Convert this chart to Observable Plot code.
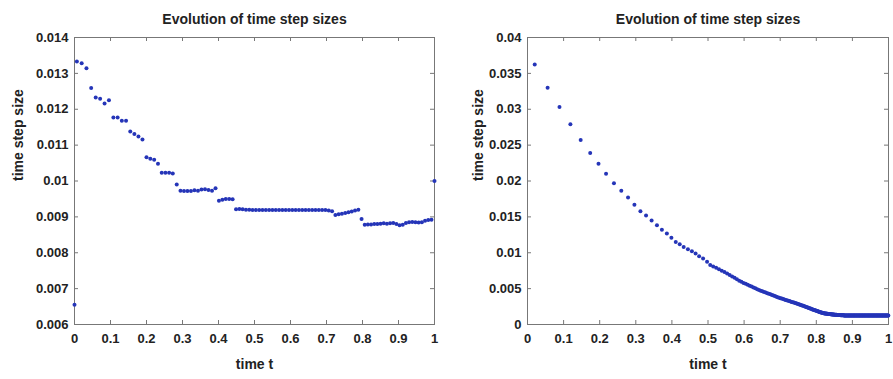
<!DOCTYPE html>
<html><head><meta charset="utf-8">
<script src="https://cdn.jsdelivr.net/npm/d3@7"></script>
<script src="https://cdn.jsdelivr.net/npm/@observablehq/plot@0.6"></script>
<style>
body{margin:0;background:#fff;}
#wrap{display:flex;width:893px;height:379px;overflow:hidden;background:#fff;}
</style></head><body><div id="wrap"></div>
<script>
const title = "Evolution of time step sizes";
const xLabel = "time t";
const yLabel = "time step size";
const xTicks = [0, 0.1, 0.2, 0.3, 0.4, 0.5, 0.6, 0.7, 0.8, 0.9, 1];
const leftYTicks = [0.006, 0.007, 0.008, 0.009, 0.01, 0.011, 0.012, 0.013, 0.014];
const rightYTicks = [0, 0.005, 0.01, 0.015, 0.02, 0.025, 0.03, 0.035, 0.04];

const leftT = [
  0, 0.0066, 0.0199, 0.0332, 0.0463, 0.0589, 0.0712, 0.0835,
  0.0957, 0.1080, 0.1198, 0.1315, 0.1432, 0.1549, 0.1663, 0.1776,
  0.1888, 0.2000, 0.2106, 0.2213, 0.2319, 0.2423, 0.2526, 0.2628,
  0.2730, 0.2840, 0.2944, 0.3041, 0.3138, 0.3235, 0.3332, 0.3430,
  0.3527, 0.3625, 0.3722, 0.3820, 0.3917, 0.4012, 0.4107, 0.4202,
  0.4297, 0.4392, 0.4487, 0.4579, 0.4671, 0.4763, 0.4855, 0.4947,
  0.5039, 0.5131, 0.5223, 0.5315, 0.5407, 0.5499, 0.5591, 0.5683,
  0.5775, 0.5867, 0.5959, 0.6051, 0.6143, 0.6235, 0.6327, 0.6419,
  0.6511, 0.6603, 0.6695, 0.6787, 0.6879, 0.6971, 0.7063, 0.7155,
  0.7247, 0.7338, 0.7429, 0.7520, 0.7611, 0.7702, 0.7793, 0.7885,
  0.7974, 0.8062, 0.8150, 0.8238, 0.8326, 0.8414, 0.8502, 0.8590,
  0.8678, 0.8766, 0.8854, 0.8942, 0.9030, 0.9118, 0.9206, 0.9294,
  0.9382, 0.9471, 0.9560, 0.9649, 0.9738, 0.9827, 0.9916, 1.0
];
const leftDt = [
  0.00655, 0.01333, 0.01328, 0.01314, 0.01259, 0.01233, 0.01229, 0.01216,
  0.01225, 0.01177, 0.01177, 0.01168, 0.01168, 0.01138, 0.01131, 0.01124,
  0.01116, 0.01066, 0.01062, 0.01059, 0.01048, 0.01023, 0.01023, 0.01023,
  0.01021, 0.00990, 0.00973, 0.00972, 0.00972, 0.00972, 0.00974, 0.00973,
  0.00976, 0.00977, 0.00975, 0.00973, 0.00980, 0.00945, 0.00948, 0.00950,
  0.00950, 0.00949, 0.00921, 0.00922, 0.00921, 0.00920, 0.00920, 0.00919,
  0.00919, 0.00919, 0.00919, 0.00919, 0.00919, 0.00919, 0.00919, 0.00919,
  0.00919, 0.00919, 0.00919, 0.00919, 0.00919, 0.00919, 0.00919, 0.00919,
  0.00919, 0.00919, 0.00919, 0.00919, 0.00919, 0.00919, 0.00918, 0.00916,
  0.00905, 0.00907, 0.00909, 0.00911, 0.00913, 0.00915, 0.00918, 0.00920,
  0.00894, 0.00878, 0.00879, 0.00879, 0.00880, 0.00880, 0.00881, 0.00882,
  0.00881, 0.00882, 0.00883, 0.00880, 0.00877, 0.00878, 0.00883, 0.00885,
  0.00886, 0.00885, 0.00884, 0.00885, 0.00889, 0.00891, 0.00892, 0.01000
];

const rightT = [
  0.0200, 0.0557, 0.0886, 0.1188, 0.1473, 0.1737, 0.1967, 0.2176,
  0.2395, 0.2598, 0.2785, 0.2962, 0.3128, 0.3284, 0.3438, 0.3586,
  0.3723, 0.3860, 0.3986, 0.4107, 0.4217, 0.4326, 0.4444, 0.4554,
  0.4656, 0.4754, 0.4864, 0.4974,
  0.5061, 0.5144, 0.5225, 0.5304, 0.5381, 0.5456, 0.5529, 0.5600,
  0.5669, 0.5736, 0.5801, 0.5864, 0.5925, 0.5984, 0.6042, 0.6099,
  0.6154, 0.6208, 0.6261, 0.6313, 0.6363, 0.6412, 0.6460, 0.6507,
  0.6553, 0.6598, 0.6643, 0.6687, 0.6730, 0.6772, 0.6813, 0.6853,
  0.6893, 0.6932, 0.6970, 0.7007, 0.7044, 0.7080, 0.7116, 0.7151,
  0.7185, 0.7219, 0.7252, 0.7285, 0.7317, 0.7349, 0.7380, 0.7411,
  0.7441, 0.7471, 0.7500, 0.7529, 0.7557, 0.7585, 0.7612, 0.7639,
  0.7665, 0.7691, 0.7716, 0.7741, 0.7765, 0.7789, 0.7812, 0.7835,
  0.7857, 0.7879, 0.7900, 0.7921, 0.7942, 0.7962, 0.7982, 0.8002,
  0.8021, 0.8040, 0.8058, 0.8076, 0.8094, 0.8111, 0.8128, 0.8145,
  0.8162, 0.8178, 0.8194, 0.8210, 0.8226, 0.8242, 0.8257, 0.8272,
  0.8287, 0.8302, 0.8317, 0.8332, 0.8347, 0.8362, 0.8377, 0.8391,
  0.8405, 0.8419, 0.8433, 0.8447, 0.8461, 0.8475, 0.8489, 0.8503,
  0.8517, 0.8531, 0.8545, 0.8558, 0.8572, 0.8585, 0.8598, 0.8611,
  0.8624, 0.8637, 0.8650, 0.8663, 0.8676, 0.8689, 0.8702, 0.8715,
  0.8728, 0.8741, 0.8754, 0.8767, 0.8780, 0.8793, 0.8806, 0.8819,
  0.8832, 0.8845, 0.8858,
  0.8871, 0.8884, 0.8896, 0.8909, 0.8921, 0.8934, 0.8946, 0.8959,
  0.8971, 0.8984, 0.8996, 0.9009, 0.9021, 0.9034, 0.9046, 0.9059,
  0.9071, 0.9084, 0.9096, 0.9109, 0.9121, 0.9134, 0.9146, 0.9159,
  0.9171, 0.9184, 0.9196, 0.9209, 0.9221, 0.9234, 0.9246, 0.9259,
  0.9271, 0.9284, 0.9296, 0.9309, 0.9321, 0.9334, 0.9346, 0.9359,
  0.9371, 0.9384, 0.9396, 0.9409, 0.9421, 0.9434, 0.9446, 0.9459,
  0.9471, 0.9484, 0.9496, 0.9509, 0.9521, 0.9534, 0.9546, 0.9559,
  0.9571, 0.9584, 0.9596, 0.9609, 0.9621, 0.9634, 0.9646, 0.9659,
  0.9671, 0.9684, 0.9696, 0.9709, 0.9721, 0.9734, 0.9746, 0.9759,
  0.9771, 0.9784, 0.9796, 0.9809, 0.9821, 0.9834, 0.9846, 0.9859,
  0.9871, 0.9884, 0.9896, 0.9909, 0.9921, 0.9934, 0.9946, 0.9959,
  0.9971, 0.9984, 0.9996
];
const rightDt = [
  0.03625, 0.0330, 0.0303, 0.0279, 0.0257, 0.0239, 0.0224, 0.0210,
  0.0197, 0.01865, 0.0177, 0.0167, 0.0158, 0.0152, 0.0145, 0.01385,
  0.0132, 0.0127, 0.0121, 0.0115, 0.0112, 0.0108, 0.0105, 0.0102,
  0.0099, 0.0095, 0.0092, 0.00875,
  0.0083, 0.0081, 0.0079, 0.0077, 0.0075, 0.0073, 0.0071, 0.0069,
  0.0067, 0.00653, 0.0063, 0.0061, 0.00595, 0.0058, 0.00567, 0.00554,
  0.00541, 0.00529, 0.00516, 0.00504, 0.00492, 0.00482, 0.00472, 0.00463,
  0.00454, 0.00445, 0.00437, 0.00428, 0.0042, 0.00412, 0.00404, 0.00396,
  0.00388, 0.00381, 0.00374, 0.00367, 0.00361, 0.00355, 0.00349, 0.00343,
  0.00337, 0.00332, 0.00326, 0.00321, 0.00315, 0.0031, 0.00305, 0.003,
  0.00295, 0.0029, 0.00285, 0.0028, 0.00275, 0.0027, 0.00265, 0.0026,
  0.00255, 0.0025, 0.00245, 0.0024, 0.00236, 0.00231, 0.00227, 0.00223,
  0.00218, 0.00214, 0.0021, 0.00206, 0.00202, 0.00198, 0.00195, 0.00191,
  0.00187, 0.00183, 0.0018, 0.00177, 0.00174, 0.00171, 0.00168, 0.00166,
  0.00163, 0.00161, 0.00159, 0.00157, 0.00155, 0.00154, 0.00153, 0.00152,
  0.00151, 0.0015, 0.00149, 0.00148, 0.00147, 0.00146, 0.00145, 0.00144,
  0.00143, 0.00142, 0.00141, 0.0014, 0.00139, 0.00139, 0.00138, 0.00137,
  0.00136, 0.00136, 0.00135, 0.00135, 0.00134, 0.00134, 0.00133, 0.00133,
  0.00132, 0.00132, 0.00131, 0.00131, 0.0013, 0.0013, 0.00129, 0.00129,
  0.00128, 0.00128, 0.00128, 0.00127, 0.00127, 0.00127, 0.00126, 0.00126,
  0.00126, 0.00126, 0.00125,
  0.00125, 0.00125, 0.00125, 0.00125, 0.00125, 0.00125, 0.00125, 0.00125,
  0.00125, 0.00125, 0.00125, 0.00125, 0.00125, 0.00125, 0.00125, 0.00125,
  0.00125, 0.00125, 0.00125, 0.00125, 0.00125, 0.00125, 0.00125, 0.00125,
  0.00125, 0.00125, 0.00125, 0.00125, 0.00125, 0.00125, 0.00125, 0.00125,
  0.00125, 0.00125, 0.00125, 0.00125, 0.00125, 0.00125, 0.00125, 0.00125,
  0.00125, 0.00125, 0.00125, 0.00125, 0.00125, 0.00125, 0.00125, 0.00125,
  0.00125, 0.00125, 0.00125, 0.00125, 0.00125, 0.00125, 0.00125, 0.00125,
  0.00125, 0.00125, 0.00125, 0.00125, 0.00125, 0.00125, 0.00125, 0.00125,
  0.00125, 0.00125, 0.00125, 0.00125, 0.00125, 0.00125, 0.00125, 0.00125,
  0.00125, 0.00125, 0.00125, 0.00125, 0.00125, 0.00125, 0.00125, 0.00125,
  0.00125, 0.00125, 0.00125, 0.00125, 0.00125, 0.00125, 0.00125, 0.00125,
  0.00125, 0.00125, 0.00125
];

const H = 379, MT = 37, MB = 55;
const axisColor = "#777";
const dotColor = "#2535b8";

function panel({width, marginLeft, marginRight, yDomain, yTicks, T, V, yLabelDx}) {
  const fh = H - MT - MB;
  const fw = width - marginLeft - marginRight;
  const fmt = d => String(+(+d).toFixed(4));
  const idx = d3.range(Math.min(T.length, V.length));
  return Plot.plot({
    width, height: H, marginLeft, marginRight, marginTop: MT, marginBottom: MB,
    style: {fontFamily: "'Liberation Sans', Arial, sans-serif", fontSize: "13px", fontWeight: "bold", color: "#222", background: "white", overflow: "visible"},
    x: {domain: [0, 1]},
    y: {domain: yDomain},
    marks: [
      Plot.frame({stroke: axisColor}),
      Plot.tickX(xTicks, {x: d => d, insetTop: fh - 4, stroke: axisColor}),
      Plot.tickX(xTicks, {x: d => d, insetBottom: fh - 4, stroke: axisColor}),
      Plot.tickY(yTicks, {y: d => d, insetRight: fw - 4, stroke: axisColor}),
      Plot.tickY(yTicks, {y: d => d, insetLeft: fw - 4, stroke: axisColor}),
      Plot.axisX(xTicks, {anchor: "bottom", tickSize: 0, tickPadding: 9, tickFormat: fmt, label: null, fill: "#222"}),
      Plot.axisY(yTicks, {anchor: "left", tickSize: 0, tickPadding: 6, tickFormat: fmt, label: null, fill: "#222"}),
      Plot.dot(idx, {x: i => T[i], y: i => V[i], r: 2, fill: dotColor, stroke: null}),
      Plot.text([title], {text: d => d, frameAnchor: "top", dy: -23, fontSize: 14, fontWeight: "bold", fill: "#222"}),
      Plot.text([xLabel], {text: d => d, frameAnchor: "bottom", dy: 44, fontSize: 14, fontWeight: "bold", fill: "#222"}),
      Plot.text([yLabel], {text: d => d, frameAnchor: "left", dx: yLabelDx, rotate: -90, fontSize: 14, fontWeight: "bold", fill: "#222"})
    ]
  });
}

const wrap = document.getElementById("wrap");
wrap.append(panel({width: 446, marginLeft: 74, marginRight: 12, yDomain: [0.006, 0.014], yTicks: leftYTicks, T: leftT, V: leftDt, yLabelDx: -56}));
wrap.append(panel({width: 447, marginLeft: 81, marginRight: 5, yDomain: [0, 0.04], yTicks: rightYTicks, T: rightT, V: rightDt, yLabelDx: -49}));
</script>
</body></html>
